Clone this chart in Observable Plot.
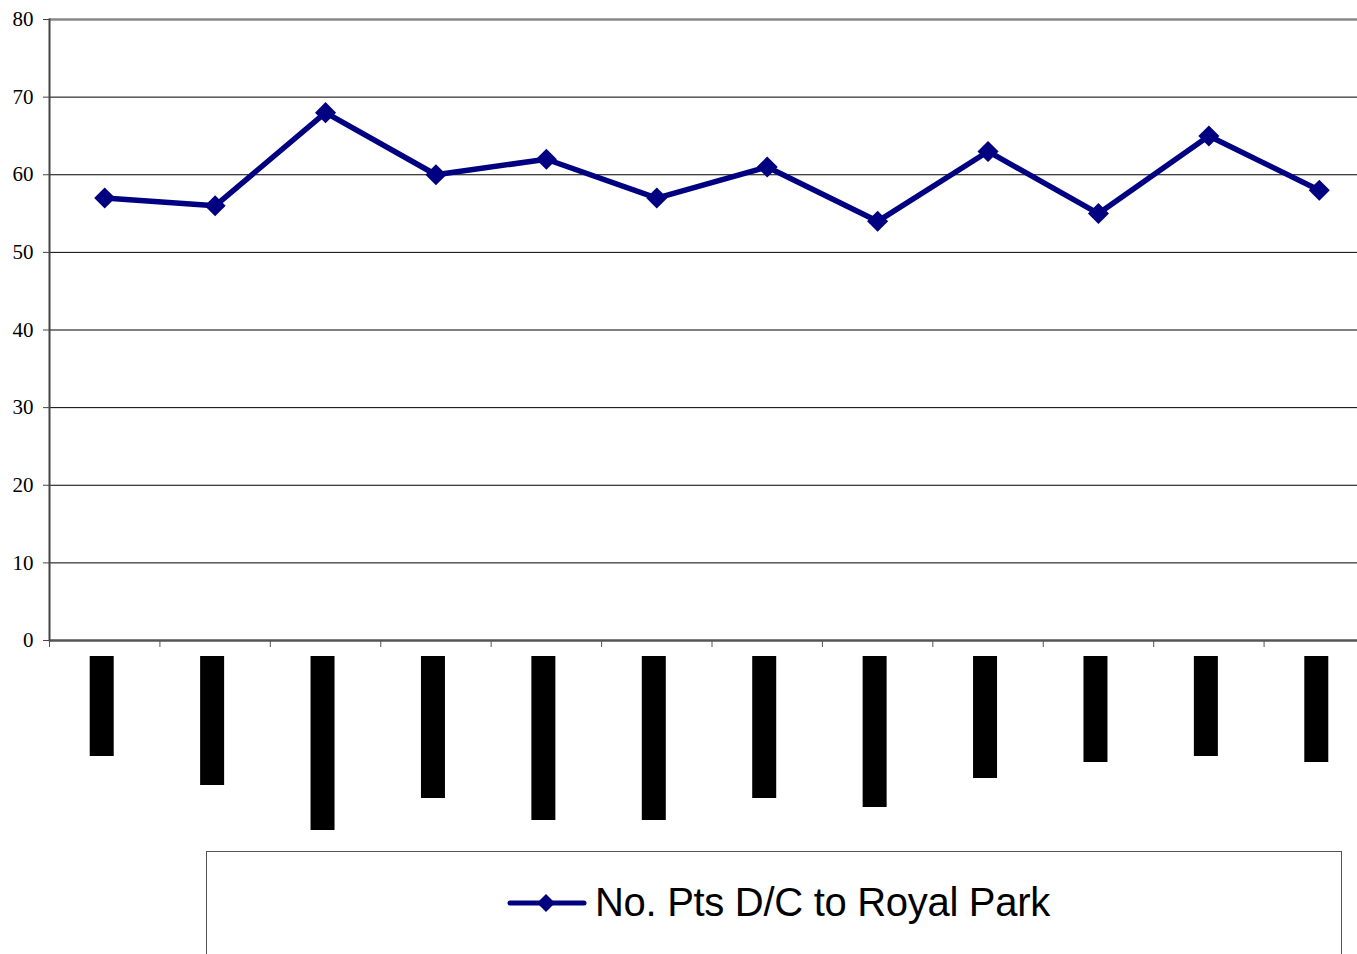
<!DOCTYPE html>
<html>
<head>
<meta charset="utf-8">
<script src="https://cdn.jsdelivr.net/npm/d3@7"></script>
<script src="https://cdn.jsdelivr.net/npm/@observablehq/plot@0.6"></script>
<style>
  html, body { margin: 0; padding: 0; background: #fff; overflow: hidden; width: 1357px; height: 954px; }
  #chart { width: 1376px; }
  #chart svg { display: block; max-width: none !important; }
  #legend {
    position: absolute; left: 206px; top: 851px; width: 1136px; height: 140px;
    border: 1px solid #555; box-sizing: border-box; background: #fff;
  }
  #legend .item { position: absolute; left: 300px; top: 28px; display: flex; align-items: center; }
  #legend .label { font-family: "Liberation Sans", Arial, sans-serif; font-size: 40px; color: #000; margin-left: 8px; letter-spacing: -0.3px; }
</style>
</head>
<body>
<div id="chart"></div>
<div id="legend"></div>
<script>
// ---- data ----
const categories = ["C1","C2","C3","C4","C5","C6","C7","C8","C9","C10","C11","C12"];
const patientsDischarged = [57, 56, 68, 60, 62, 57, 61, 54, 63, 55, 65, 58];
// lengths of the (blacked-out) category labels under the axis
const redactedLabelLength = [100, 129, 174, 142, 164, 164, 142, 151, 122, 106, 100, 106];
const yTicks = [0, 10, 20, 30, 40, 50, 60, 70, 80];
const seriesName = "No. Pts D/C to Royal Park";

const navy = "#000080";
const W = 1375.5, mL = 49, mR = 1.5;
const step = (W - mL - mR) / categories.length;

const rows = categories.map((c, i) => ({cat: c, value: patientsDischarged[i], len: redactedLabelLength[i]}));

const main = Plot.plot({
  width: W, height: 656,
  marginTop: 19, marginBottom: 16, marginLeft: mL, marginRight: mR,
  style: {background: "#fff", overflow: "visible", maxWidth: "none"},
  x: {type: "point", domain: categories, padding: 0.5, round: false},
  y: {domain: [0, 80], ticks: yTicks},
  marks: [
    Plot.ruleY(yTicks.filter(t => t > 0 && t < 80), {stroke: "#000", strokeWidth: 1}),
    Plot.ruleY([80], {stroke: "#888", strokeWidth: 2.5}),
    Plot.ruleY([0], {stroke: "#555", strokeWidth: 2.5}),
    Plot.frame({anchor: "left", stroke: "#444", strokeWidth: 2}),
    Plot.axisY({
      ticks: yTicks, tickSize: 6, tickPadding: 10, stroke: "#444",
      fontFamily: "Liberation Serif", fontSize: 21, fill: "#000", label: null
    }),
    Plot.axisX({
      tickSize: 7, dx: -step / 2, stroke: "#555", tickFormat: () => "", label: null
    }),
    Plot.line(rows, {x: "cat", y: "value", stroke: navy, strokeWidth: 5.5, strokeLinejoin: "miter"}),
    Plot.dot(rows, {x: "cat", y: "value", symbol: "diamond2", r: 9.5, fill: navy, stroke: "none"})
  ]
});
document.getElementById("chart").appendChild(main);

const labels = Plot.plot({
  width: W, height: 195,
  marginTop: 0, marginBottom: 0, marginLeft: mL, marginRight: mR,
  style: {maxWidth: "none"},
  x: {type: "point", domain: categories, padding: 0.5, round: false, axis: null},
  y: {domain: [0, 195], range: [0, 195], axis: null},
  marks: [
    Plot.ruleX(rows, {x: "cat", y1: 0, y2: "len", stroke: "#000", strokeWidth: 24, dx: -3})
  ]
});
document.getElementById("chart").appendChild(labels);

// legend
const item = document.createElement("div");
item.className = "item";
item.innerHTML = `<svg width="80" height="24" viewBox="0 0 80 24">
  <line x1="3" y1="12" x2="77" y2="12" stroke="${navy}" stroke-width="5" stroke-linecap="round"/>
  <path d="M39 3 L48 12 L39 21 L30 12 Z" fill="${navy}"/>
</svg><span class="label">${seriesName}</span>`;
document.getElementById("legend").appendChild(item);
</script>
</body>
</html>
